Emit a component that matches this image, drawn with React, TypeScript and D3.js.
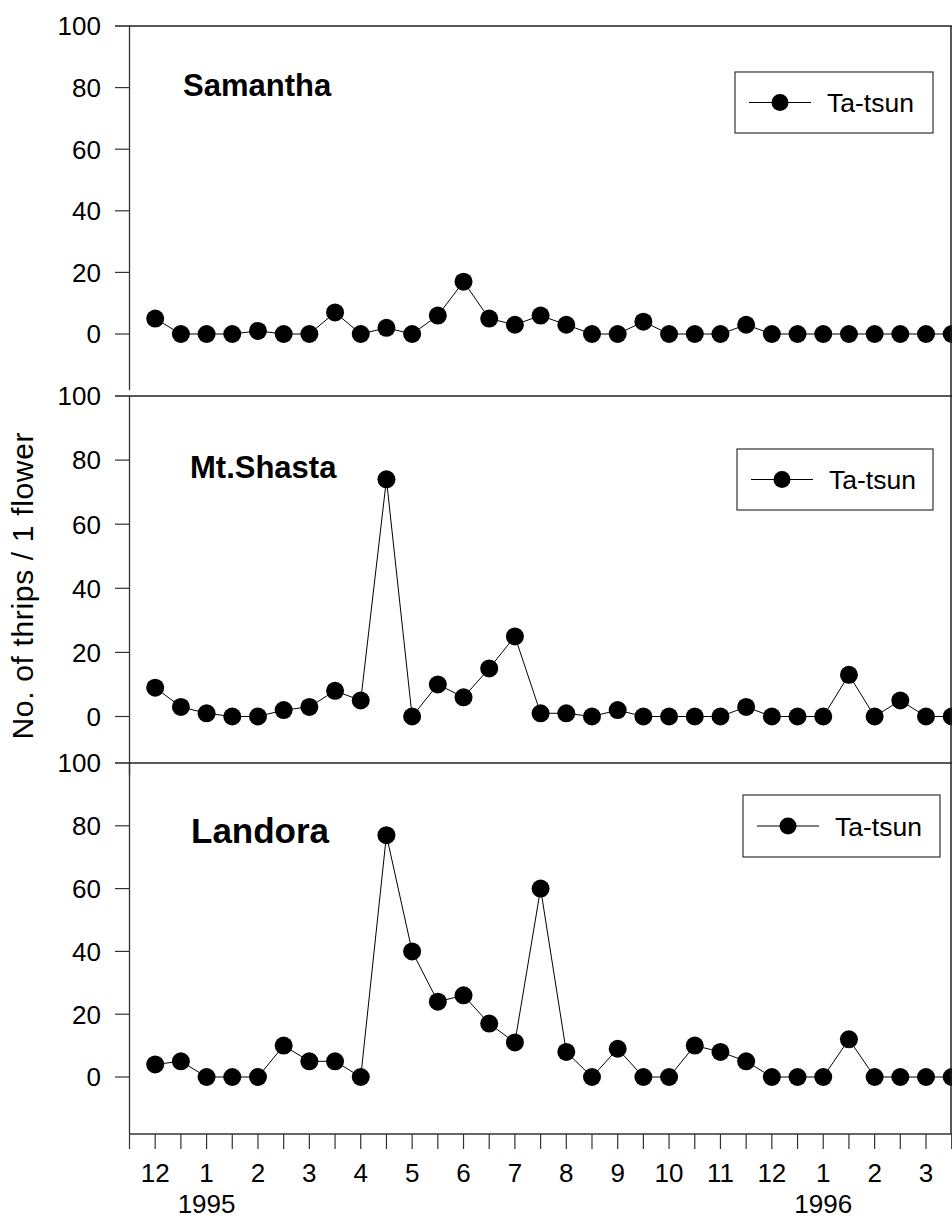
import React from 'react';
import * as d3 from 'd3';

// months sampled twice a month, Dec 1995 .. Mar 1996 (32 samples)
const monthLabels = ['12', '1', '2', '3', '4', '5', '6', '7', '8', '9', '10', '11', '12', '1', '2', '3'];
const yearLabels = [{ index: 2, label: '1995' }, { index: 26, label: '1996' }];
const yTicks = [0, 20, 40, 60, 80, 100];

const samantha = [5, 0, 0, 0, 1, 0, 0, 7, 0, 2, 0, 6, 17, 5, 3, 6, 3, 0, 0, 4, 0, 0, 0, 3, 0, 0, 0, 0, 0, 0, 0, 0];
const mtShasta = [9, 3, 1, 0, 0, 2, 3, 8, 5, 74, 0, 10, 6, 15, 25, 1, 1, 0, 2, 0, 0, 0, 0, 3, 0, 0, 0, 13, 0, 5, 0, 0];
const landora = [4, 5, 0, 0, 0, 10, 5, 5, 0, 77, 40, 24, 26, 17, 11, 60, 8, 0, 9, 0, 0, 10, 8, 5, 0, 0, 0, 12, 0, 0, 0, 0];

const seriesName = 'Ta-tsun';

const width = 952;
const height = 1219;
const axisX = 129.5;
const rightX = 951;
const font = 'Arial, "Liberation Sans", sans-serif';

const x = d3.scaleLinear().domain([-1, 31]).range([axisX, 951.7]);

const panels = [
    { name: 'Samantha', data: samantha, top: 26, zero: 334, bottom: 390, titleSize: 31, titleY: 96, titleX: 183,
      legend: { x: 735, y: 72, w: 198, h: 61 } },
    { name: 'Mt.Shasta', data: mtShasta, top: 396, zero: 716.5, bottom: 775, titleSize: 31, titleY: 478, titleX: 190,
      legend: { x: 737, y: 449, w: 196, h: 61 } },
    { name: 'Landora', data: landora, top: 763, zero: 1077, bottom: 1134, titleSize: 35, titleY: 843, titleX: 191,
      legend: { x: 743, y: 795, w: 197, h: 62 } },
];

const axisBottomY = 1134;

export default function App() {
    return (
        <svg width={width} height={height} style={{ position: 'absolute', left: 0, top: 0, background: '#fff' }}
            fontFamily={font}>
            <rect width={width} height={height} fill="#fff" />
            {panels.map((p, pi) => {
                const y = d3.scaleLinear().domain([0, 100]).range([p.zero, p.top]);
                const line = d3.line<number>().x((d, i) => x(i)).y(d => y(d));
                const lg = p.legend;
                const lgMid = lg.y + lg.h / 2;
                return (
                    <g key={pi}>
                        <line x1={115} x2={width} y1={p.top} y2={p.top} stroke="#222" strokeWidth={1.3} />
                        <line x1={axisX} x2={axisX} y1={p.top} y2={p.bottom} stroke="#333" strokeWidth={1.3} />
                        {yTicks.map(t => (
                            <g key={t}>
                                {t !== 100 && <line x1={115} x2={axisX} y1={y(t)} y2={y(t)} stroke="#333" strokeWidth={1.2} />}
                                <text x={101} y={y(t)} dy="0.36em" textAnchor="end" fontSize={26}>{t}</text>
                            </g>
                        ))}
                        <text x={p.titleX} y={p.titleY} fontSize={p.titleSize} fontWeight="bold">{p.name}</text>
                        <path d={line(p.data) || ''} fill="none" stroke="#000" strokeWidth={1} />
                        {p.data.map((d, i) => (
                            <circle key={i} cx={x(i)} cy={y(d)} r={9} fill="#000" />
                        ))}
                        <rect x={lg.x} y={lg.y} width={lg.w} height={lg.h} fill="#fff" stroke="#333" strokeWidth={1.2} />
                        <line x1={lg.x + 14} x2={lg.x + 76} y1={lgMid} y2={lgMid} stroke="#000" strokeWidth={1} />
                        <circle cx={lg.x + 45} cy={lgMid} r={8.5} fill="#000" />
                        <text x={lg.x + 92} y={lgMid} dy="0.36em" fontSize={26.5}>{seriesName}</text>
                    </g>
                );
            })}
            <line x1={rightX} x2={rightX} y1={26} y2={axisBottomY} stroke="#222" strokeWidth={1.5} />
            <line x1={axisX} x2={width} y1={axisBottomY} y2={axisBottomY} stroke="#333" strokeWidth={1.3} />
            {d3.range(-1, 32).map(i => (
                <line key={i} x1={x(i)} x2={x(i)} y1={axisBottomY} y2={axisBottomY + 15} stroke="#333" strokeWidth={1.2} />
            ))}
            {monthLabels.map((m, k) => (
                <text key={k} x={x(k * 2)} y={1182} textAnchor="middle" fontSize={26}>{m}</text>
            ))}
            {yearLabels.map(yl => (
                <text key={yl.label} x={x(yl.index)} y={1213} textAnchor="middle" fontSize={26}>{yl.label}</text>
            ))}
            <text transform="translate(33,586) rotate(-90)" textAnchor="middle" fontSize={30}
                textLength={307} lengthAdjust="spacing">No. of thrips / 1 flower</text>
        </svg>
    );
}
